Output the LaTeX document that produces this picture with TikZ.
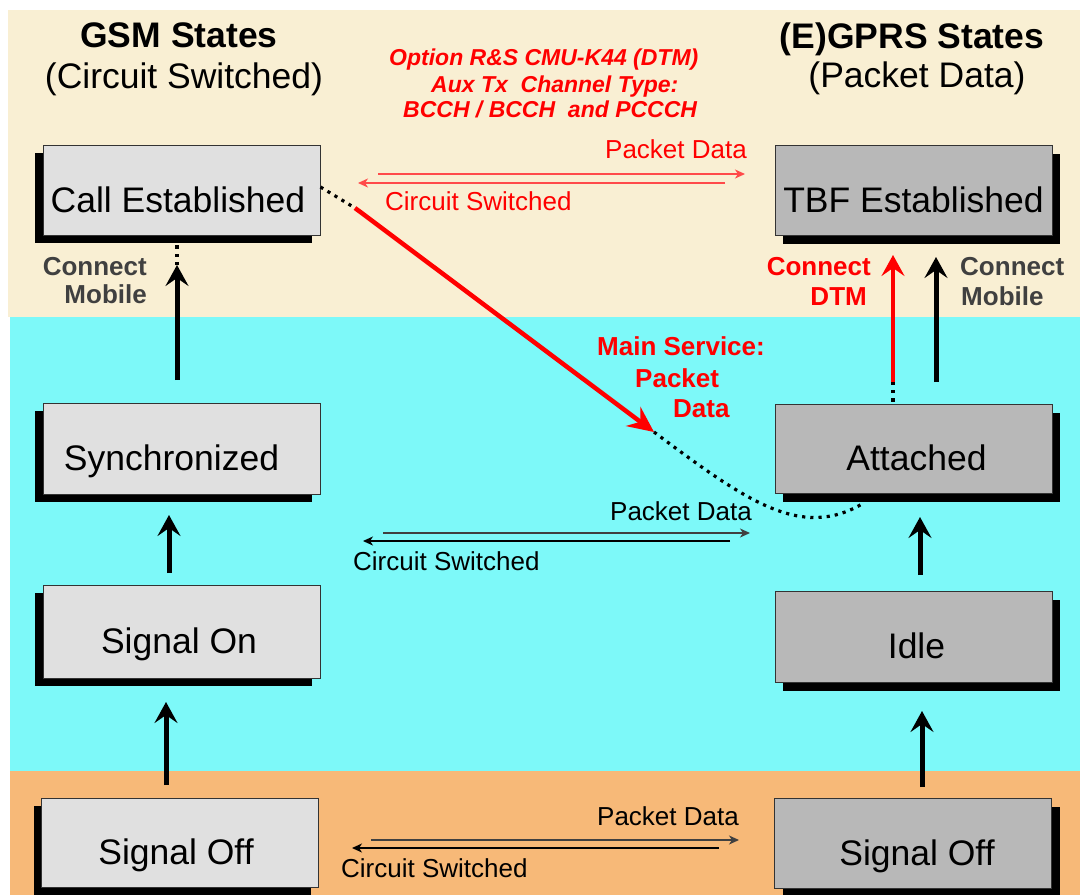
\documentclass[tikz,border=0pt]{standalone}
\usepackage{fontspec}
\setmainfont{Liberation Sans}
\usetikzlibrary{arrows.meta,shadows,calc}
\definecolor{bgbeige}{HTML}{F9EFD3}
\definecolor{bgcyan}{HTML}{7DF9F9}
\definecolor{bgorange}{HTML}{F7B978}
\definecolor{boxlight}{HTML}{E0E0E0}
\definecolor{boxdark}{HTML}{B8B8B8}
\definecolor{labgray}{HTML}{404040}
\definecolor{redA}{HTML}{FF0000}
\definecolor{redB}{HTML}{FF4A4A}
\begin{document}
\begin{tikzpicture}[x=1pt,y=-1pt,
  state/.style={draw=black!80, line width=1pt, minimum width=277pt, inner sep=0pt,
    text height=44pt, text depth=0pt, font=\fontsize{35.5}{40}\selectfont},
  gsm/.style={state, fill=boxlight,
    drop shadow={shadow xshift=-8pt, shadow yshift=-8pt, opacity=1, fill=black}},
  gprs/.style={state, fill=boxdark,
    drop shadow={shadow xshift=8pt, shadow yshift=-9pt, opacity=1, fill=black}},
  hdr/.style={inner sep=0pt, font=\fontsize{35.5}{40}\selectfont},
  hdrb/.style={hdr, font=\fontsize{35.5}{40}\selectfont\bfseries},
  opt/.style={inner sep=0pt, text=redA, font=\fontsize{23}{27}\selectfont\bfseries\itshape},
  flow/.style={inner sep=0pt, font=\fontsize{26}{30}\selectfont},
  lab/.style={inner sep=0pt, font=\fontsize{26}{30}\selectfont\bfseries},
  bigarr/.style={line width=5pt, -{Stealth[length=21pt,width=23pt,inset=8pt]}},
  thinarr/.style={-{Stealth[length=10pt,width=9pt,inset=3pt]}},
  dots/.style={line width=3.2pt, dash pattern=on 3.2pt off 5pt}
]
\useasboundingbox (0,0) rectangle (1080,895);
% background bands
\fill[white] (0,0) rectangle (1080,895);
\fill[bgbeige] (8,10) rectangle (1080,317);
\fill[bgcyan] (10,317) rectangle (1080,771);
\fill[bgorange] (10,771) rectangle (1080,895);

% headers
\node[hdrb, anchor=base] (gsmT) at (179,47) {GSM States};
\node[hdr, anchor=base] (gsmS) at (184,88) {(Circuit Switched)};
\node[hdrb, anchor=base] (gprsT) at (912,48) {(E)GPRS States};
\node[hdr, anchor=base] (gprsS) at (917,87) {(Packet Data)};

% option text
\node[opt, anchor=base west] (opt1) at (389,65) {Option R\&S CMU-K44 (DTM)};
\node[opt, anchor=base west] (opt2) at (431,92) {Aux Tx~ Channel Type:};
\node[opt, anchor=base west] (opt3) at (403,117) {BCCH / BCCH~ and PCCCH};

% state boxes
\node[gsm, minimum height=90pt] (call) at (181.5,190) {Call Established\hspace*{7pt}};
\node[gsm, minimum height=91pt] (sync) at (181.5,448.5) {Synchronized\hspace*{20pt}};
\node[gsm, minimum height=93pt] (son) at (181.5,631.5) {Signal On\hspace*{5pt}};
\node[gsm, minimum height=89pt] (loff) at (180,842.5) {Signal Off\hspace*{8pt}};
\node[gprs, minimum height=90pt] (tbf) at (913.5,190) {TBF Established};
\node[gprs, minimum height=89pt] (att) at (913.5,448.5) {\hspace*{6pt}Attached};
\node[gprs, minimum height=91pt] (idle) at (913.5,636.5) {\hspace*{6pt}Idle};
\node[gprs, minimum height=90pt] (roff) at (913,843) {\hspace*{8pt}Signal Off};

% vertical arrows, left column
\coordinate (a1s) at (177,380); \coordinate (a1e) at (177,265);
\coordinate (a2s) at (169,573); \coordinate (a2e) at (169,515);
\coordinate (a3s) at (166,785); \coordinate (a3e) at (166,702);
\draw[bigarr] (a1s) -- (a1e);
\draw[dots] (a1e) -- (call.south -| a1e);
\draw[bigarr] (a2s) -- (a2e);
\draw[bigarr] (a3s) -- (a3e);

% vertical arrows, right column
\coordinate (b1s) at (893,382); \coordinate (b1e) at (893,255);
\coordinate (b2s) at (936,382); \coordinate (b2e) at (936,257);
\coordinate (b3s) at (920,575); \coordinate (b3e) at (920,517);
\coordinate (b4s) at (922,787); \coordinate (b4e) at (922,711);
\draw[bigarr, draw=redA, line width=4pt] (b1s) -- (b1e);
\draw[dots] (b1s) -- (att.north -| b1s);
\draw[bigarr] (b2s) -- (b2e);
\draw[bigarr] (b3s) -- (b3e);
\draw[bigarr] (b4s) -- (b4e);

% connect labels
\node[lab, text=labgray, anchor=base east] (cm1) at (147,275) {Connect};
\node[lab, text=labgray, anchor=base east] (cm2) at (147,303) {Mobile};
\node[lab, text=redA, anchor=base east] (cd1) at (871,275) {Connect};
\node[lab, text=redA, anchor=base east] (cd2) at (867,305) {DTM};
\node[lab, text=labgray, anchor=base west] (cr1) at (960,275) {Connect};
\node[lab, text=labgray, anchor=base west] (cr2) at (961,305) {Mobile};

% main service
\node[lab, text=redA, anchor=base west] (ms1) at (597,355) {Main Service:};
\node[lab, text=redA, anchor=base west] (ms2) at (635,387) {Packet};
\node[lab, text=redA, anchor=base west] (ms3) at (673,417) {Data};

% red diagonal + dotted paths
\coordinate (d1) at (355,208);
\coordinate (d2) at (654,432);
\coordinate (d3) at (862,504);
\draw[dots] ([yshift=3pt]call.east) -- (d1);
\draw[redA, line width=4.5pt, -{Stealth[length=26pt,width=24pt,inset=9pt]}] (d1) -- (d2);
\draw[dots] (d2) .. controls (745,500) and (800,540) .. (d3);

% top pair (red)
\node[flow, text=redA, anchor=base east] (tpd) at (747,158) {Packet Data};
\node[flow, text=redA, anchor=base west] (tcs) at (385,210) {Circuit Switched};
\coordinate (t1s) at (378,174); \coordinate (t1e) at (745,174);
\coordinate (t2s) at (725,183); \coordinate (t2e) at (358,183);
\draw[thinarr, redB, line width=1.6pt] (t1s) -- (t1e);
\draw[thinarr, redB, line width=1.6pt] (t2s) -- (t2e);

% middle pair
\node[flow, anchor=base east] (mpd) at (752,520) {Packet Data};
\node[flow, anchor=base west] (mcs) at (353,570) {Circuit Switched};
\coordinate (m1s) at (383,533); \coordinate (m1e) at (750,533);
\coordinate (m2s) at (730,541); \coordinate (m2e) at (363,541);
\draw[thinarr, black!75, line width=1.3pt] (m1s) -- (m1e);
\draw[thinarr, line width=1.7pt] (m2s) -- (m2e);

% bottom pair
\node[flow, anchor=base east] (bpd) at (739,825) {Packet Data};
\node[flow, anchor=base west] (bcs) at (341,877) {Circuit Switched};
\coordinate (n1s) at (371,840); \coordinate (n1e) at (739,840);
\coordinate (n2s) at (719,848); \coordinate (n2e) at (352,848);
\draw[thinarr, black!75, line width=1.3pt] (n1s) -- (n1e);
\draw[thinarr, line width=1.7pt] (n2s) -- (n2e);
\end{tikzpicture}
\end{document}
